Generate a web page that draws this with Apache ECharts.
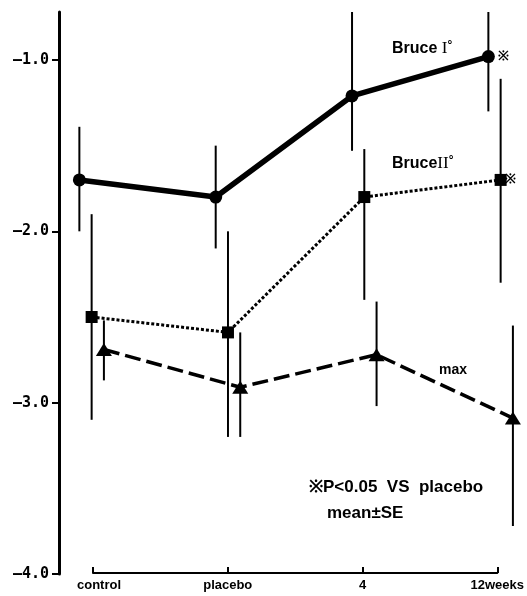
<!DOCTYPE html>
<html><head><meta charset="utf-8">
<script src="https://cdn.jsdelivr.net/npm/echarts@6/dist/echarts.min.js"></script>
<style>html,body{margin:0;padding:0;background:#fff}#c{width:527px;height:596px}</style>
</head><body><div id="c"></div>
<script>
const categories = ['control', 'placebo', '4', '12weeks'];
const yTicks = [-4, -3, -2, -1];
const bruce1Mean = [-1.70, -1.80, -1.21, -0.98];
const bruce1Low  = [-2.00, -2.10, -1.53, -1.30];
const bruce1High = [-1.39, -1.50, -0.72, -0.72];
const bruce2Mean = [-2.50, -2.59, -1.80, -1.70];
const bruce2Low  = [-3.10, -3.20, -2.40, -2.30];
const bruce2High = [-1.90, -2.00, -1.52, -1.11];
const maxMean = [-2.69, -2.91, -2.72, -3.09];
const maxLow  = [-2.87, -3.20, -3.02, -3.72];
const maxHigh = [-2.52, -2.59, -2.41, -2.55];
const offsets = { b1: -0.1, b2: -0.01, mx: 0.08 };

const chart = echarts.init(document.getElementById('c'), null, { renderer: 'canvas' });
const ink = '#000';
function pts(mean, off) { return mean.map((v, i) => [i + off, v]); }
function bars(low, high, off) { return low.map((v, i) => [i + off, v, high[i]]); }
function errSeries(low, high, off) {
  return {
    type: 'custom', xAxisIndex: 0, yAxisIndex: 0, z: 1, clip: false,
    data: bars(low, high, off),
    renderItem: function (params, api) {
      const a = api.coord([api.value(0), api.value(1)]);
      const b = api.coord([api.value(0), api.value(2)]);
      return { type: 'line', shape: { x1: a[0], y1: a[1], x2: b[0], y2: b[1] },
        style: { stroke: ink, lineWidth: 2 } };
    }
  };
}
const sans = 'Liberation Sans';
const lab = { fontFamily: sans, fontWeight: 'bold', fill: ink };
const romanRich = {
  r: { fontFamily: 'Liberation Serif', fontWeight: 'normal', fontSize: 17, fill: ink },
  d: { fontFamily: sans, fontWeight: 'bold', fontSize: 12, fill: ink, verticalAlign: 'top' }
};
// plot scale: category 0 at x=93, category 3 at x=502
const pxPerCat = (502 - 93) / 3;
const xMin = -(93 - 59) / pxPerCat;
const xMax = 3 + 20 / pxPerCat;
chart.setOption({
  animation: false,
  backgroundColor: '#fff',
  grid: [
    { left: 59, width: 463, top: 12, height: 562 },
    { left: 93, width: 409, top: 12, height: 561 }
  ],
  xAxis: [
    { type: 'value', gridIndex: 0, min: xMin, max: xMax, show: false },
    { type: 'category', gridIndex: 1, data: categories, boundaryGap: false,
      axisLine: { onZero: false, lineStyle: { color: ink, width: 2 } },
      axisTick: { inside: true, length: 6, lineStyle: { color: ink, width: 2 } },
      axisLabel: { margin: 6, fontSize: 13, fontFamily: sans, fontWeight: 'bold', color: ink,
        formatter: (v, i) => i === 0 ? '{c|' + v + '}' : v,
        rich: { c: { padding: [0, 0, 0, 12], fontSize: 13, fontFamily: sans, fontWeight: 'bold', color: ink } } } }
  ],
  yAxis: [
    { type: 'value', gridIndex: 0, min: -4, max: -0.72, interval: 1,
      splitLine: { show: false },
      axisLine: { show: true, onZero: false, lineStyle: { color: ink, width: 3 } },
      axisTick: { show: true, length: 7, lineStyle: { color: ink, width: 2 } },
      axisLabel: { margin: 10, showMaxLabel: false, fontSize: 15, fontFamily: 'DejaVu Sans Mono', fontWeight: 'bold', color: ink,
        formatter: v => yTicks.includes(Math.round(v)) && Math.abs(v - Math.round(v)) < 1e-6 ? '\u2014' + Math.abs(v).toFixed(1) : '' } },
    { type: 'value', gridIndex: 1, show: false }
  ],
  series: [
    errSeries(bruce1Low, bruce1High, offsets.b1),
    errSeries(bruce2Low, bruce2High, offsets.b2),
    errSeries(maxLow, maxHigh, offsets.mx),
    { type: 'line', name: 'Bruce I', data: pts(bruce1Mean, offsets.b1), z: 3, clip: false,
      symbol: 'circle', symbolSize: 13, itemStyle: { color: ink },
      lineStyle: { color: ink, width: 5.5 } },
    { type: 'line', name: 'Bruce II', data: pts(bruce2Mean, offsets.b2), z: 3, clip: false,
      symbol: 'rect', symbolSize: 12, itemStyle: { color: ink },
      lineStyle: { color: ink, width: 3, type: [3, 2] } },
    { type: 'line', name: 'max', data: pts(maxMean, offsets.mx), z: 3, clip: false,
      symbol: 'triangle', symbolSize: [16, 13], itemStyle: { color: ink },
      lineStyle: { color: ink, width: 3.5, type: [16, 6] } },
    { type: 'line', xAxisIndex: 1, yAxisIndex: 1, data: [], silent: true }
  ],
  graphic: [
    { type: 'text', left: 392, top: 40, style: Object.assign({ text: 'Bruce {r|I}{d|\u00b0}', fontSize: 16, rich: romanRich }, lab) },
    { type: 'text', left: 498, top: 50, style: Object.assign({ text: '\u203b', fontSize: 13 }, lab) },
    { type: 'text', left: 392, top: 155, style: Object.assign({ text: 'Bruce{r|II}{d|\u00b0}', fontSize: 16, rich: romanRich }, lab) },
    { type: 'text', left: 505, top: 173, style: Object.assign({ text: '\u203b', fontSize: 13 }, lab) },
    { type: 'text', left: 439, top: 363, style: Object.assign({ text: 'max', fontSize: 14 }, lab) },
    { type: 'text', left: 309, top: 479, style: Object.assign({ text: '\u203bP<0.05  VS  placebo', fontSize: 17 }, lab) },
    { type: 'text', left: 327, top: 505, style: Object.assign({ text: 'mean\u00b1SE', fontSize: 17 }, lab) }
  ]
});
</script></body></html>
